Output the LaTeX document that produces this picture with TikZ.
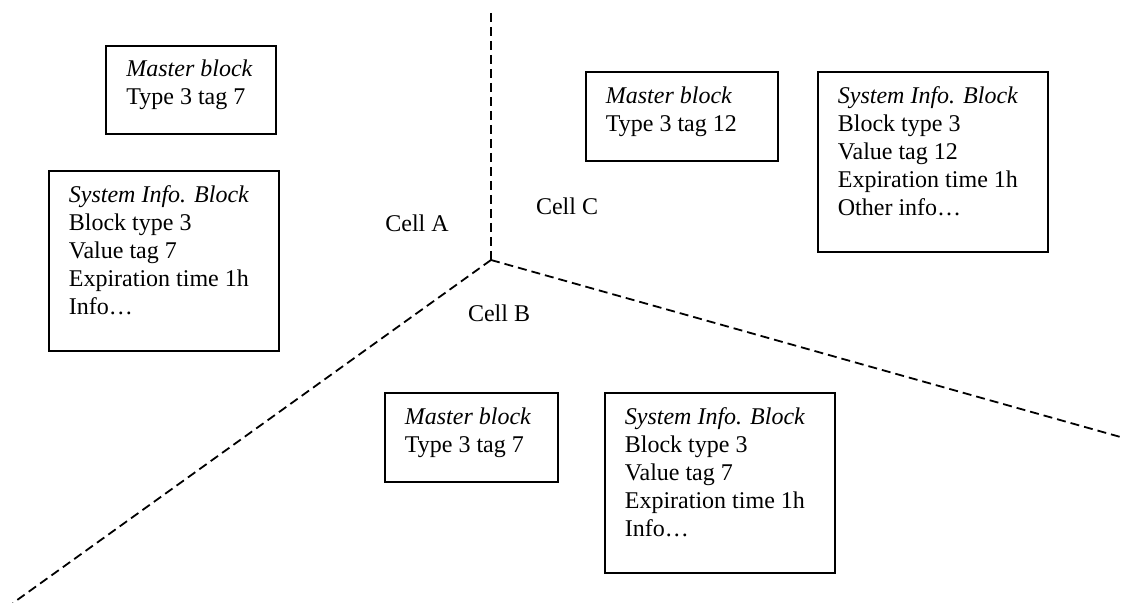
\documentclass[tikz,border=0pt]{standalone}
\usepackage{fontspec}
\setmainfont{Liberation Serif}
\usetikzlibrary{calc}
\begin{document}
\begin{tikzpicture}[x=0.5pt,y=-0.5pt,
  frame/.style={draw, line width=0.9pt, inner sep=0pt, anchor=north west},
  content/.style={align=left, inner sep=0pt, anchor=north west,
    font=\fontsize{12}{13.9}\selectfont},
  celltag/.style={inner sep=0pt, anchor=base, font=\fontsize{12}{13.9}\selectfont},
  cellborder/.style={line width=0.9pt, dash pattern=on 4.5pt off 2.5pt}
]
\useasboundingbox (0,0) rectangle (1125,603);

% cell borders meeting at one point
\coordinate (hub) at (491,260);
\coordinate (topend) at (491,13);
\coordinate (leftend) at (13,603);
\coordinate (rightend) at (1124,438);
\draw[cellborder] (topend) -- (hub);
\draw[cellborder] (hub) -- (leftend);
\draw[cellborder] (hub) -- (rightend);

% cell names
\node[celltag] (cellA) at (417,232) {Cell A};
\node[celltag] (cellC) at (567,215) {Cell C};
\node[celltag] (cellB) at (499,322) {Cell B};

% Cell A blocks
\node[frame, minimum width=85pt, minimum height=44pt] (mbA) at (105,45) {};
\node[content] (mbAtxt) at ($(mbA.north west)+(21,14.6)$)
  {\textit{Master block}\\Type 3 tag 7};
\node[frame, minimum width=115pt, minimum height=90pt] (sibA) at (48,170) {};
\node[content] (sibAtxt) at ($(sibA.north west)+(20.5,15.6)$)
  {\textit{System Info. Block}\\Block type 3\\Value tag 7\\Expiration time 1h\\Info…};

% Cell C blocks
\node[frame, minimum width=96pt, minimum height=44.5pt] (mbC) at (585,71) {};
\node[content] (mbCtxt) at ($(mbC.north west)+(20.5,15.6)$)
  {\textit{Master block}\\Type 3 tag 12};
\node[frame, minimum width=115pt, minimum height=90pt] (sibC) at (817,71) {};
\node[content] (sibCtxt) at ($(sibC.north west)+(20.5,15.6)$)
  {\textit{System Info. Block}\\Block type 3\\Value tag 12\\Expiration time 1h\\Other info…};

% Cell B blocks
\node[frame, minimum width=86.5pt, minimum height=44.5pt] (mbB) at (384,392) {};
\node[content] (mbBtxt) at ($(mbB.north west)+(20.5,15.6)$)
  {\textit{Master block}\\Type 3 tag 7};
\node[frame, minimum width=115pt, minimum height=90pt] (sibB) at (604,392) {};
\node[content] (sibBtxt) at ($(sibB.north west)+(20.5,15.6)$)
  {\textit{System Info. Block}\\Block type 3\\Value tag 7\\Expiration time 1h\\Info…};
\end{tikzpicture}
\end{document}
